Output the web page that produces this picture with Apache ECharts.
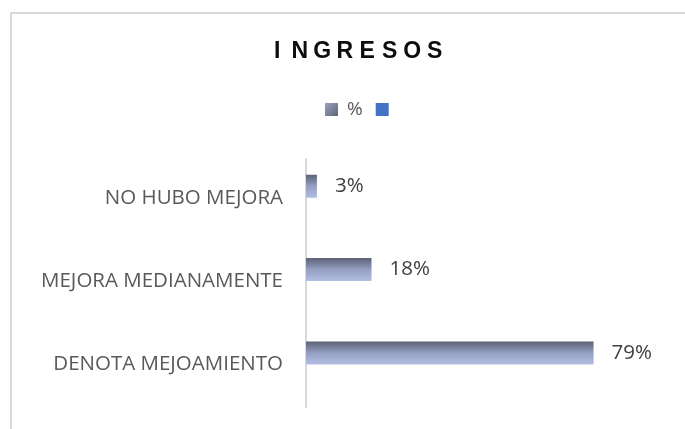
<!DOCTYPE html>
<html><head><meta charset="utf-8">
<script src="https://cdn.jsdelivr.net/npm/echarts@6/dist/echarts.min.js"></script>
<style>html,body{margin:0;padding:0;background:#fff}#c{width:685px;height:429px}</style>
</head><body><div id="c"></div>
<script>
const categories = ['DENOTA MEJOAMIENTO', 'MEJORA MEDIANAMENTE', 'NO HUBO MEJORA'];
const values = [79, 18, 3];
const seriesNames = ['%', ' '];
const titleText = 'INGRESOS';
const chart = echarts.init(document.getElementById('c'));
const barGrad = new echarts.graphic.LinearGradient(0, 0, 0, 1, [
  {offset: 0, color: '#5c6176'},
  {offset: 0.5, color: '#949fc2'},
  {offset: 1, color: '#b2bde2'}
]);
chart.setOption({
  animation: false,
  graphic: [
    {type: 'polyline', shape: {points: [[11, 429], [11, 13], [685, 13]]}, style: {stroke: '#d9d9d9', lineWidth: 2, fill: null}},
    {type: 'line', shape: {x1: 306, y1: 158, x2: 306, y2: 408}, style: {stroke: '#d9d9d9', lineWidth: 2}}
  ],
  title: {text: titleText.split('').map(ch => '{s|' + ch + '}').join(''), left: 261, top: 35,
    textStyle: {rich: {s: {fontFamily: 'Liberation Sans', fontWeight: 'bold', fontSize: 23, color: '#0d0d0d', width: 22.5, align: 'center'}}}},
  legend: {top: 95, left: 320, itemWidth: 13, itemHeight: 13, itemGap: 13, icon: 'rect',
    textStyle: {fontFamily: 'Open Sans', fontSize: 19, color: '#595959', padding: [0, 0, 0, 4]},
    data: [{name: seriesNames[0], itemStyle: {color: new echarts.graphic.LinearGradient(0,0,1,1,[{offset:0,color:'#9aa3c4'},{offset:1,color:'#5e6378'}])}}, {name: seriesNames[1]}]},
  grid: {left: 306, right: 15, top: 152, bottom: 27, outerBoundsMode: 'none', containLabel: false},
  xAxis: {type: 'value', min: 0, max: 100, show: false},
  yAxis: {type: 'category', data: categories,
    axisLine: {show: false},
    axisTick: {show: false},
    axisLabel: {margin: 23, verticalAlign: 'top', lineHeight: 8, fontFamily: 'Open Sans', fontSize: 20.5, color: '#595959'}},
  series: [
    {name: seriesNames[0], type: 'bar', data: values, barWidth: 23,
      itemStyle: {color: barGrad},
      label: {show: true, position: 'right', distance: 18, formatter: '{c}%', fontFamily: 'Open Sans', fontSize: 20.5, color: '#404040'}},
    {name: seriesNames[1], type: 'bar', data: [], itemStyle: {color: '#4472c4'}}
  ]
});
</script></body></html>
